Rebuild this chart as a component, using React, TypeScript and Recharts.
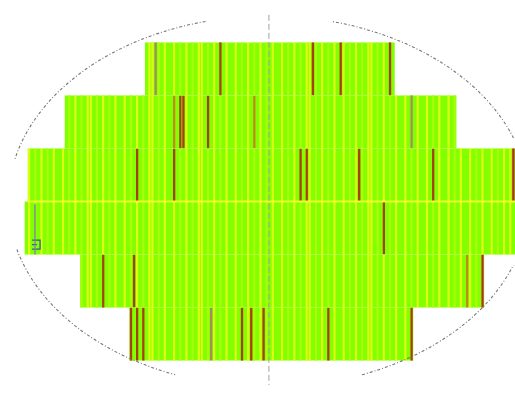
import React from "react";
import { ComposedChart, XAxis, YAxis, ReferenceArea, ReferenceLine } from "recharts";

// Wafer rows (die rows, top to bottom): first and last column (exclusive) of dice
const rowStart = [40, 14, 2, 1, 19, 35];
const rowEnd = [121, 141, 160, 160, 150, 127];

// Column shading (yellow-ish die columns)
const yellowCols = [2, 6, 10, 13, 17, 21, 22, 26, 30, 33, 37, 41, 42, 46, 49, 53, 57, 58, 62, 66, 69, 73, 77, 81, 84, 88, 92, 93, 97, 101, 104, 108, 112, 113, 117, 121, 124, 128, 131, 135, 138, 142, 145, 149, 152, 156, 158];
const paleCols = [4, 8, 15, 19, 24, 28, 35, 39, 44, 51, 55, 60, 64, 71, 75, 79, 86, 90, 95, 99, 106, 110, 115, 119, 126, 133, 140, 147, 154];

// Failing dice columns per row
const defectRows = [0, 0, 0, 0, 0, 1, 1, 1, 1, 1, 1, 2, 2, 2, 2, 2, 2, 2, 3, 4, 4, 4, 4, 5, 5, 5, 5, 5, 5, 5, 5, 5];
const defectCols = [43, 64, 94, 103, 119, 49, 51, 52, 60, 75, 126, 37, 49, 90, 92, 109, 133, 159, 117, 26, 36, 144, 149, 35, 37, 39, 61, 71, 74, 78, 99, 126];
const defectKinds = ["g", "b", "b", "b", "b", "o", "b", "b", "b", "o", "g", "b", "b", "b", "b", "b", "b", "r", "b", "b", "b", "o", "r", "b", "b", "b", "g", "b", "b", "b", "b", "b"];

// Wafer outline (ellipse) and notch gaps, center line
const waferCenter = { x: 80.1, y: 3.0 };
const waferRadius = { x: 84.5, y: 3.5 };
const outlineArcs: [number, number][] = [[104, 167], [195, 249], [291, 340], [20, 76]];
const centerLineX = 80.2;
const marker = { x: 4.35, y1: 3.05, y2: 4.0, bx1: 3.4, bx2: 6.0, by1: 3.73, by2: 3.9 };

const GREEN = "#82ff00";
const YELLOW = "#e0ff10";
const PALE = "#aaff06";
const defectColor: Record<string, string> = { b: "#a5410f", r: "#b0302a", o: "#c08a1c", g: "#a09060" };

const EllipseShape = (props: any) => {
  const { x, y, width, height } = props;
  const cx = x + width / 2;
  const cy = y + height / 2;
  const rx = width / 2;
  const ry = height / 2;
  const pt = (deg: number) => {
    const t = (deg * Math.PI) / 180;
    return [cx + rx * Math.cos(t), cy - ry * Math.sin(t)];
  };
  const d = outlineArcs
    .map(([a, b]) => {
      const [x1, y1] = pt(a);
      const [x2, y2] = pt(b);
      return `M${x1},${y1} A${rx},${ry} 0 0 0 ${x2},${y2}`;
    })
    .join(" ");
  return <path d={d} fill="none" stroke="#777" strokeWidth={1.1} strokeDasharray="3 2 1 2" />;
};

const BracketShape = (props: any) => {
  const { x, y, width, height } = props;
  const d = `M${x},${y} H${x + width} V${y + height} H${x} M${x},${y + height / 2} H${x + width * 0.6}`;
  return <path d={d} fill="none" stroke="#3a5a9a" strokeWidth={1.3} />;
};

export default function App() {
  const rows = rowStart.map((s, i) => ({ r: i, s, e: rowEnd[i] }));
  return (
    <div style={{ position: "absolute", left: 0, top: 0, width: 515, height: 395, background: "#fff" }}>
      <ComposedChart width={515} height={395} margin={{ top: 0, right: 0, bottom: 0, left: 0 }} data={[]}>
        <XAxis type="number" dataKey="x" domain={[-7, 160]} hide allowDataOverflow />
        <YAxis type="number" dataKey="y" domain={[-0.8, 6.65]} reversed hide allowDataOverflow />
        {rows.map((row) => (
          <ReferenceArea key={`row${row.r}`} x1={row.s} x2={row.e} y1={row.r} y2={row.r + 1} fill={GREEN} fillOpacity={1} stroke="none" ifOverflow="visible" />
        ))}
        {rows.map((row) =>
          paleCols
            .filter((c) => c >= row.s && c < row.e)
            .map((c) => (
              <ReferenceArea key={`p${row.r}-${c}`} x1={c + 0.1} x2={c + 0.8} y1={row.r} y2={row.r + 1} fill={PALE} fillOpacity={1} stroke="none" ifOverflow="visible" />
            ))
        )}
        {rows.map((row) =>
          yellowCols
            .filter((c) => c >= row.s && c < row.e)
            .map((c) => (
              <ReferenceArea key={`y${row.r}-${c}`} x1={c + 0.1} x2={c + 0.8} y1={row.r} y2={row.r + 1} fill={YELLOW} fillOpacity={1} stroke="none" ifOverflow="visible" />
            ))
        )}
        {defectCols.map((c, i) => (
          <ReferenceArea key={`d${i}`} x1={c + 0.1} x2={c + 0.85} y1={defectRows[i]} y2={defectRows[i] + 1} fill={defectColor[defectKinds[i]]} fillOpacity={1} stroke="none" ifOverflow="visible" />
        ))}
        <ReferenceArea
          x1={waferCenter.x - waferRadius.x}
          x2={waferCenter.x + waferRadius.x}
          y1={waferCenter.y - waferRadius.y}
          y2={waferCenter.y + waferRadius.y}
          ifOverflow="visible"
          shape={<EllipseShape />}
        />
        <ReferenceArea x1={marker.bx1} x2={marker.bx2} y1={marker.by1} y2={marker.by2} ifOverflow="visible" shape={<BracketShape />} />
        {rows.slice(1).map((row) => (
          <ReferenceLine
            key={`b${row.r}`}
            segment={[{ x: Math.max(row.s, rowStart[row.r - 1]), y: row.r }, { x: Math.min(row.e, rowEnd[row.r - 1]), y: row.r }]}
            stroke={row.r === 3 ? "#eaff30" : "#b8ff40"}
            strokeWidth={row.r === 3 ? 2 : 1}
            strokeOpacity={row.r === 3 ? 1 : 0.6}
            ifOverflow="visible"
          />
        ))}
        <ReferenceLine segment={[{ x: marker.x, y: marker.y1 }, { x: marker.x, y: marker.y2 }]} stroke="#7080a8" strokeWidth={1.3} ifOverflow="visible" />
        <ReferenceLine segment={[{ x: centerLineX, y: -0.52 }, { x: centerLineX, y: 6.46 }]} stroke="#a0a0a0" strokeWidth={1} strokeDasharray="6 3" ifOverflow="visible" />
      </ComposedChart>
    </div>
  );
}
